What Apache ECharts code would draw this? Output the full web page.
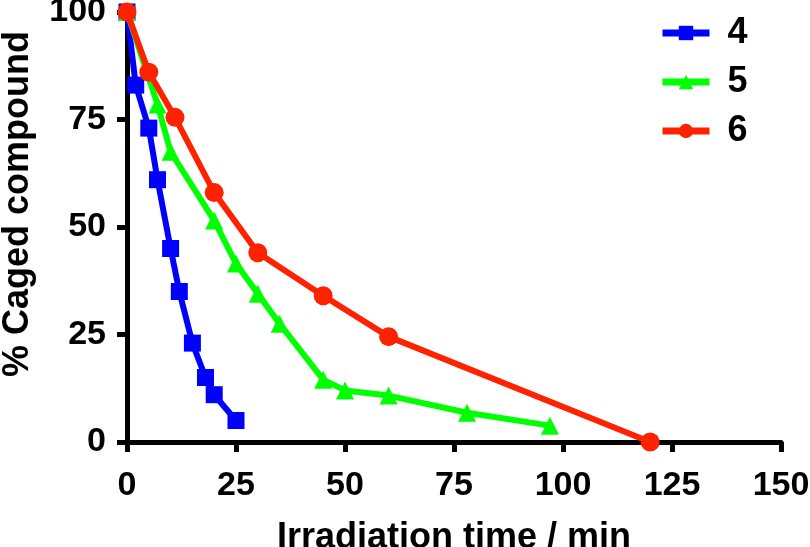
<!DOCTYPE html>
<html>
<head>
<meta charset="utf-8">
<script src="https://cdn.jsdelivr.net/npm/echarts@6/dist/echarts.min.js"></script>
<style>html,body{margin:0;padding:0;background:#fff}#c{width:810px;height:547px}</style>
</head>
<body>
<div id="c"></div>
<script>
var seriesNames = ['4', '5', '6'];
var x4 = [0, 2, 5, 7, 10, 12, 15, 18, 20, 25];
var y4 = [100, 83, 73, 61, 45, 35, 23, 15, 11, 5];
var x5 = [0, 7, 10, 20, 25, 30, 35, 45, 50, 60, 78, 97];
var y5 = [100, 78.5, 67.5, 51.5, 41.5, 34.5, 27.5, 14.5, 12, 10.8, 6.8, 3.8];
var x6 = [0, 5, 11, 20, 30, 45, 60, 120];
var y6 = [100, 86, 75.5, 58, 44, 34, 24.5, 0];
var xTicks = [0, 25, 50, 75, 100, 125, 150];
var yTicks = [0, 25, 50, 75, 100];

function pairs(xs, ys) { return xs.map(function (x, i) { return [x, ys[i]]; }); }

var font = 'Liberation Sans, Arial, sans-serif';
var chart = echarts.init(document.getElementById('c'), null, { renderer: 'canvas' });
var axisCommon = {
  axisLine: { show: true, lineStyle: { color: '#000', width: 5 } },
  axisTick: { show: true, inside: false, length: 10, lineStyle: { color: '#000', width: 5 } },
  splitLine: { show: false },
  axisLabel: { color: '#000', fontSize: 34, fontWeight: 'bold', fontFamily: font },
  nameTextStyle: { color: '#000', fontSize: 36, fontWeight: 'bold', fontFamily: font }
};
chart.setOption({
  animation: false,
  backgroundColor: '#fff',
  grid: { left: 127, right: 29, top: 12, bottom: 105, containLabel: false, outerBoundsMode: 'none' },
  legend: {
    orient: 'vertical', left: 654, top: 10,
    itemWidth: 47, itemHeight: 18, itemGap: 13,
    lineStyle: { width: 7 },
    textStyle: { color: '#000', fontSize: 36, fontWeight: 'bold', fontFamily: font, padding: [0, 0, 0, 13] },
    data: seriesNames
  },
  xAxis: Object.assign({}, axisCommon, {
    type: 'value', min: xTicks[0], max: xTicks[xTicks.length - 1], interval: 25,
    name: 'Irradiation time / min', nameLocation: 'middle', nameGap: 78,
    axisLabel: Object.assign({}, axisCommon.axisLabel, { margin: 27 })
  }),
  yAxis: Object.assign({}, axisCommon, {
    type: 'value', min: yTicks[0], max: yTicks[yTicks.length - 1], interval: 25,
    name: '% Caged compound', nameLocation: 'middle', nameGap: 91,
    nameTextStyle: Object.assign({}, axisCommon.nameTextStyle, { padding: [0, 0, 0, 46] }),
    axisLabel: Object.assign({}, axisCommon.axisLabel, { margin: 21 })
  }),
  series: [
    { name: seriesNames[0], type: 'line', data: pairs(x4, y4), symbol: 'rect', symbolSize: 17,
      lineStyle: { color: '#0000ff', width: 6 }, itemStyle: { color: '#0000ff' }, z: 2 },
    { name: seriesNames[1], type: 'line', data: pairs(x5, y5), symbol: 'triangle', symbolSize: 18,
      lineStyle: { color: '#00ff00', width: 6 }, itemStyle: { color: '#00ff00' }, z: 3 },
    { name: seriesNames[2], type: 'line', data: pairs(x6, y6), symbol: 'circle', symbolSize: 19,
      lineStyle: { color: '#ff2200', width: 6 }, itemStyle: { color: '#ff2200' }, z: 4 }
  ]
});
</script>
</body>
</html>
